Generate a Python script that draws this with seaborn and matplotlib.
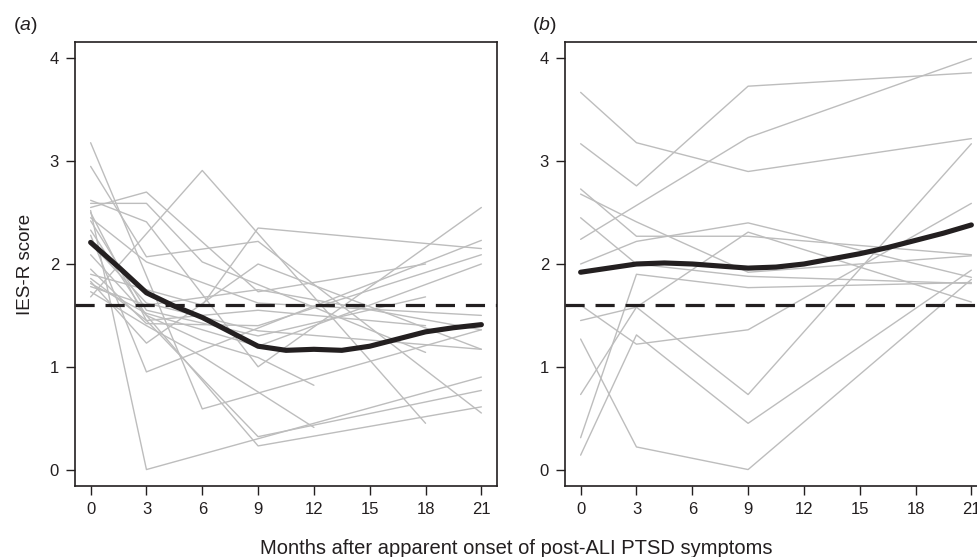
import numpy as np
import pandas as pd
import matplotlib
matplotlib.use("Agg")
import matplotlib.pyplot as plt
import seaborn as sns

nan = np.nan

# ---------------- data: panel (a) ----------------
months_a = [0, 3, 6, 9, 12, 15, 18, 21]
a01 = [3.18, nan, 0.59, nan, nan, nan, nan, 1.36]
a02 = [2.95, 2.07, nan, 2.22, nan, nan, nan, 0.55]
a03 = [1.68, nan, 2.91, nan, nan, nan, 0.45, nan]
a04 = [2.55, 2.70, nan, 1.73, nan, nan, 2.00, nan]
a05 = [2.59, 2.59, 2.02, nan, nan, nan, 1.14, nan]
a06 = [2.62, 2.41, nan, 1.00, nan, nan, nan, 2.55]
a07 = [1.90, nan, 1.60, 2.35, nan, nan, nan, 2.15]
a08 = [2.50, 1.45, nan, 0.32, nan, nan, nan, 0.77]
a09 = [2.28, 0.95, nan, nan, nan, nan, nan, 2.23]
a10 = [2.52, 0.00, nan, nan, nan, nan, nan, 0.90]
a11 = [1.83, 1.23, nan, 2.00, nan, nan, nan, 1.17]
a12 = [1.73, 1.40, 1.10, nan, 0.41, nan, nan, nan]
a13 = [2.33, 1.50, 1.25, 1.09, 0.82, nan, nan, nan]
a14 = [2.42, 1.55, nan, 1.30, nan, nan, 1.68, nan]
a15 = [1.95, 1.42, nan, 1.40, nan, nan, nan, 2.09]
a16 = [1.86, 1.45, nan, 1.55, nan, nan, 1.40, nan]
a17 = [1.81, 1.52, nan, 1.20, nan, nan, nan, 2.00]
a18 = [2.20, 1.62, nan, 1.35, nan, nan, nan, 1.17]
a19 = [2.09, 1.50, nan, 0.23, nan, nan, nan, 0.61]
a20 = [1.78, 1.60, nan, 1.75, nan, nan, nan, 1.36]
a21 = [2.45, 2.02, nan, 1.62, nan, nan, nan, 1.50]
patients_a = [a01, a02, a03, a04, a05, a06, a07, a08, a09, a10, a11,
              a12, a13, a14, a15, a16, a17, a18, a19, a20, a21]

# ---------------- data: panel (b) ----------------
months_b = [0, 3, 9, 21]
b01 = [3.67, 3.18, 2.90, 3.22]
b02 = [3.17, 2.76, 3.73, 3.86]
b03 = [2.24, nan, 3.23, 4.00]
b04 = [2.73, 2.27, 2.27, 2.09]
b05 = [2.68, 2.41, 1.92, 2.08]
b06 = [2.45, 2.00, 1.88, 1.81]
b07 = [2.00, 2.22, 2.40, 1.87]
b08 = [1.60, 1.22, 1.36, 2.59]
b09 = [1.45, 1.58, 0.73, 3.17]
b10 = [1.27, 0.22, 0.00, 1.85]
b11 = [0.73, 1.58, 2.31, 1.63]
b12 = [0.31, 1.90, 1.77, 1.82]
b13 = [0.14, 1.31, 0.45, 1.94]
patients_b = [b01, b02, b03, b04, b05, b06, b07, b08, b09, b10, b11, b12, b13]

# ---------------- smoothed mean curves ----------------
smooth_months = [0, 1.5, 3, 4.5, 6, 7.5, 9, 10.5, 12, 13.5, 15, 16.5, 18, 19.5, 21]
smooth_a = [2.21, 1.97, 1.72, 1.59, 1.48, 1.34, 1.20, 1.16, 1.17, 1.16, 1.20, 1.27, 1.34, 1.38, 1.41]
smooth_b = [1.92, 1.96, 2.00, 2.01, 2.00, 1.98, 1.96, 1.97, 2.00, 2.05, 2.10, 2.16, 2.23, 2.30, 2.38]

cutoff = 1.6
x_ticks = [0, 3, 6, 9, 12, 15, 18, 21]
y_ticks = [0, 1, 2, 3, 4]
panel_labels = ["a", "b"]
ylabel = "IES-R score"
xlabel = "Months after apparent onset of post-ALI PTSD symptoms"

# ---------------- styling ----------------
sns.set_theme(style="ticks")
plt.rcParams["font.family"] = ["Liberation Sans", "DejaVu Sans"]
plt.rcParams["mathtext.fontset"] = "custom"
plt.rcParams["mathtext.rm"] = "Liberation Sans"
plt.rcParams["mathtext.it"] = "Liberation Sans:italic"

INK = "#231f20"
GREY = "#bdbdbd"


def to_long(patients, months):
    rows = []
    for i, p in enumerate(patients):
        for m, v in zip(months, p):
            if not np.isnan(v):
                rows.append((i, m, v))
    return pd.DataFrame(rows, columns=["patient", "month", "score"])


W, H = 978, 557
fig = plt.figure(figsize=(W / 100, H / 100), dpi=100)
axA = fig.add_axes([75 / W, 71 / H, 422 / W, 444 / H])
axB = fig.add_axes([565 / W, 71 / H, 422 / W, 444 / H])

for ax, pats, months, smooth in [(axA, patients_a, months_a, smooth_a),
                                 (axB, patients_b, months_b, smooth_b)]:
    df = to_long(pats, months)
    sns.lineplot(data=df, x="month", y="score", units="patient", estimator=None,
                 color=GREY, lw=1.0, ax=ax, legend=False)
    ax.axhline(cutoff, color=INK, lw=2.3, dashes=(6.0, 3.4), zorder=3)
    sns.lineplot(x=smooth_months, y=smooth, color=INK, lw=3.7, ax=ax,
                 legend=False, zorder=4)
    ax.set_xlim(-0.84, 21.84)
    ax.set_ylim(-0.16, 4.16)
    ax.set_xticks(x_ticks)
    ax.set_yticks(y_ticks)
    ax.set_xlabel("")
    ax.set_ylabel("")
    for s in ax.spines.values():
        s.set_visible(True)
        s.set_color(INK)
        s.set_linewidth(1.2)
    ax.tick_params(direction="out", length=6.5, width=1.0, color=INK,
                   labelcolor=INK, labelsize=12, pad=5)
    ax.set_facecolor("white")

fig.text(13 / W, 1 - 30 / H, r"($\it{a}$)", fontsize=14, color=INK,
         ha="left", va="baseline")
fig.text(532 / W, 1 - 30 / H, r"($\it{b}$)", fontsize=14, color=INK,
         ha="left", va="baseline")
fig.text(25.5 / W, 1 - 264 / H, ylabel, rotation=90, fontsize=13.5, color=INK,
         ha="center", va="center")
fig.text(516 / W, 2.5 / H, xlabel, fontsize=14.5, color=INK,
         ha="center", va="baseline")

fig.savefig("out.png", dpi=100, facecolor="white")
